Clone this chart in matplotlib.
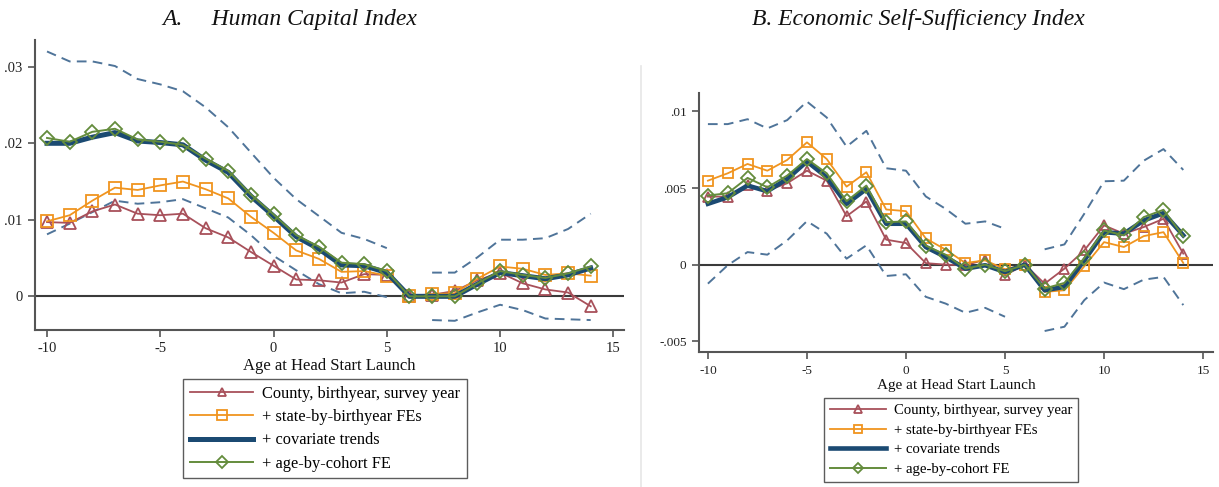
import numpy as np
import matplotlib
matplotlib.use("Agg")
import matplotlib.pyplot as plt
from matplotlib.lines import Line2D

plt.rcParams["font.family"] = ["Liberation Serif", "DejaVu Serif"]

# ---------------- data ----------------
ages = list(range(-10, 15))

# Panel A: Human Capital Index
hc_county = [0.0097, 0.0096, 0.0111, 0.0120, 0.0108, 0.0106, 0.0108, 0.0089, 0.0077, 0.0058,
             0.0040, 0.0022, 0.0021, 0.0018, 0.0029, 0.0028, 0.0, 0.0002, 0.0007, 0.0021,
             0.0031, 0.0017, 0.0009, 0.0005, -0.0013]
hc_state = [0.0098, 0.0106, 0.0125, 0.0142, 0.0139, 0.0145, 0.0150, 0.0140, 0.0128, 0.0104,
            0.0083, 0.0060, 0.0049, 0.0032, 0.0033, 0.0027, 0.0, 0.0003, 0.0004, 0.0023,
            0.0039, 0.0036, 0.0028, 0.0030, 0.0027]
hc_trends = [0.0200, 0.0200, 0.0208, 0.0214, 0.0203, 0.0201, 0.0198, 0.0178, 0.0162, 0.0131,
             0.0105, 0.0078, 0.0062, 0.0041, 0.0040, 0.0031, 0.0, 0.0, 0.0, 0.0016,
             0.0031, 0.0027, 0.0023, 0.0028, 0.0037]
hc_cohort = [0.0207, 0.0202, 0.0215, 0.0219, 0.0205, 0.0202, 0.0198, 0.0180, 0.0164, 0.0133,
             0.0107, 0.0080, 0.0065, 0.0044, 0.0042, 0.0033, 0.0, 0.0, 0.0, 0.0017,
             0.0033, 0.0028, 0.0024, 0.0030, 0.0039]
hc_upper = [0.0320, 0.0307, 0.0307, 0.0301, 0.0284, 0.0277, 0.0268, 0.0247, 0.0221, 0.0188,
            0.0155, 0.0127, 0.0105, 0.0083, 0.0075, 0.0063, np.nan, 0.0031, 0.0031, 0.0051,
            0.0074, 0.0074, 0.0076, 0.0088, 0.0108]
hc_lower = [0.0081, 0.0095, 0.0110, 0.0125, 0.0121, 0.0123, 0.0127, 0.0115, 0.0103, 0.0080,
            0.0053, 0.0034, 0.0016, 0.0004, 0.0006, -0.0001, np.nan, -0.0031, -0.0032, -0.0021,
            -0.0011, -0.0018, -0.0029, -0.0030, -0.0031]

# Panel B: Economic Self-Sufficiency Index
es_county = [0.00444, 0.00444, 0.00520, 0.00483, 0.00531, 0.00613, 0.00548, 0.00316, 0.00412, 0.00163,
             0.00141, 0.00010, 0.0, -0.00004, 0.00033, -0.00069, 0.0, -0.00124, -0.00026, 0.00093,
             0.00256, 0.00202, 0.00245, 0.00299, 0.00072]
es_state = [0.00548, 0.00596, 0.00657, 0.00613, 0.00683, 0.00798, 0.00689, 0.00509, 0.00603, 0.00360,
            0.00349, 0.00171, 0.00098, 0.00011, 0.00028, -0.00030, 0.0, -0.00178, -0.00167, -0.00011,
            0.00147, 0.00115, 0.00186, 0.00212, 0.00011]
es_trends = [0.00397, 0.00440, 0.00516, 0.00479, 0.00559, 0.00674, 0.00570, 0.00397, 0.00494, 0.00267,
             0.00267, 0.00115, 0.00050, -0.00026, -0.00004, -0.00048, 0.0, -0.00167, -0.00145, 0.00028,
             0.00212, 0.00202, 0.00288, 0.00336, 0.00191]
es_cohort = [0.00451, 0.00466, 0.00566, 0.00505, 0.00581, 0.00689, 0.00596, 0.00414, 0.00516, 0.00277,
             0.00282, 0.00124, 0.00065, -0.00026, 0.0, -0.00043, 0.0, -0.00156, -0.00119, 0.00043,
             0.00223, 0.00191, 0.00310, 0.00358, 0.00184]
es_upper = [0.00917, 0.00917, 0.00949, 0.00889, 0.00943, 0.01064, 0.00960, 0.00770, 0.00873, 0.00629,
            0.00613, 0.00445, 0.00364, 0.00267, 0.00282, 0.00234, np.nan, 0.00100, 0.00132, 0.00332,
            0.00544, 0.00548, 0.00678, 0.00754, 0.00618]
es_lower = [-0.00124, -0.00004, 0.00082, 0.00065, 0.00158, 0.00284, 0.00202, 0.00039, 0.00126, -0.00074,
            -0.00063, -0.00210, -0.00254, -0.00314, -0.00282, -0.00340, np.nan, -0.00433, -0.00405, -0.00232,
            -0.00117, -0.00160, -0.00098, -0.00080, -0.00264]

series_labels = ["County, birthyear, survey year", "+ state-by-birthyear FEs",
                 "+ covariate trends", "+ age-by-cohort FE"]

xticks = [-10, -5, 0, 5, 10, 15]
xtick_labels = ["-10", "-5", "0", "5", "10", "15"]
hc_yticks = [0.0, 0.01, 0.02, 0.03]
hc_ytick_labels = ["0", ".01", ".02", ".03"]
es_yticks = [-0.005, 0.0, 0.005, 0.01]
es_ytick_labels = ["-.005", "0", ".005", ".01"]

# ---------------- style ----------------
C_RED = "#a8505a"
C_ORANGE = "#f0941f"
C_NAVY = "#1b4a72"
C_GREEN = "#648c3c"
C_CI = "#4f7499"
SPINE = "#555555"

W, H = 1219, 487
fig = plt.figure(figsize=(W / 100, H / 100), dpi=100)


def px_axes(left, top, right, bottom):
    return fig.add_axes([left / W, 1 - bottom / H, (right - left) / W, (bottom - top) / H])


def draw_panel(ax, county, state, trends, cohort, upper, lower, ms_scale, yticks, ylabels, fs):
    x = np.array(ages)
    ax.plot(x, upper, color=C_CI, lw=1.4, ls=(0, (5, 3.2)), zorder=2)
    ax.plot(x, lower, color=C_CI, lw=1.4, ls=(0, (5, 3.2)), zorder=2)
    ax.axhline(0, color="#3a3a3a", lw=1.5, zorder=1)
    h1, = ax.plot(x, county, color=C_RED, lw=1.3, marker="^", ms=8 * ms_scale, mfc="none",
                  mec=C_RED, mew=1.3, zorder=3)
    h2, = ax.plot(x, state, color=C_ORANGE, lw=1.3, marker="s", ms=8.5 * ms_scale, mfc="none",
                  mec=C_ORANGE, mew=1.3, zorder=4)
    h3, = ax.plot(x, trends, color=C_NAVY, lw=3.6 * ms_scale, zorder=5)
    h4, = ax.plot(x, cohort, color=C_GREEN, lw=1.4, marker="D", ms=7.5 * ms_scale, mfc="none",
                  mec=C_GREEN, mew=1.3, zorder=6)
    for s in ("top", "right"):
        ax.spines[s].set_visible(False)
    for s in ("left", "bottom"):
        ax.spines[s].set_color(SPINE)
        ax.spines[s].set_linewidth(1.5)
    ax.set_xticks(xticks)
    ax.set_xticklabels(xtick_labels)
    ax.set_yticks(yticks)
    ax.set_yticklabels(ylabels)
    ax.tick_params(axis="both", direction="out", length=5, width=1.2, color=SPINE,
                   labelsize=fs, labelcolor="#222222", pad=4)
    ax.set_xlabel("Age at Head Start Launch", fontsize=fs + 1.5, color="#111111", labelpad=2)
    return [h1, h2, h3, h4]


# Panel A
axA = px_axes(35, 40, 624, 330)
axA.set_xlim(-10.53, 15.47)
axA.set_ylim(-0.0044, 0.0335)
hA = draw_panel(axA, hc_county, hc_state, hc_trends, hc_cohort, hc_upper, hc_lower,
                1.0, hc_yticks, hc_ytick_labels, 10.5)

# Panel B
axB = px_axes(699, 93, 1213, 352)
axB.set_xlim(-10.45, 15.5)
axB.set_ylim(-0.0057, 0.0112)
hB = draw_panel(axB, es_county, es_state, es_trends, es_cohort, es_upper, es_lower,
                0.92, es_yticks, es_ytick_labels, 9.5)

# light outline of panel B's graph region
fig.add_artist(Line2D([641 / W, 641 / W], [1 - 487 / H, 1 - 66 / H], color="#e6e6e6", lw=1.2))

# titles
fig.text(290 / W, 1 - 20 / H, "A.     Human Capital Index", ha="center", va="center",
         fontsize=17, style="italic", color="#111111")
fig.text(918 / W, 1 - 20 / H, "B. Economic Self-Sufficiency Index", ha="center", va="center",
         fontsize=17, style="italic", color="#111111")

# legends
legA = fig.legend(hA, series_labels, loc="upper left", bbox_to_anchor=(183 / W, 1 - 379 / H),
                  fontsize=11.8, frameon=True, fancybox=False, handlelength=3.9,
                  handletextpad=0.55, labelspacing=0.45, borderpad=0.4, borderaxespad=0,
                  markerscale=0.8)
legA.get_frame().set_edgecolor("#333333")
legA.get_frame().set_linewidth(1.0)

legB = fig.legend(hB, series_labels, loc="upper left", bbox_to_anchor=(824 / W, 1 - 398 / H),
                  fontsize=10.6, frameon=True, fancybox=False, handlelength=3.8,
                  handletextpad=0.55, labelspacing=0.42, borderpad=0.4, borderaxespad=0,
                  markerscale=0.8)
legB.get_frame().set_edgecolor("#333333")
legB.get_frame().set_linewidth(1.0)

fig.savefig("out.png", dpi=100, facecolor="white")
